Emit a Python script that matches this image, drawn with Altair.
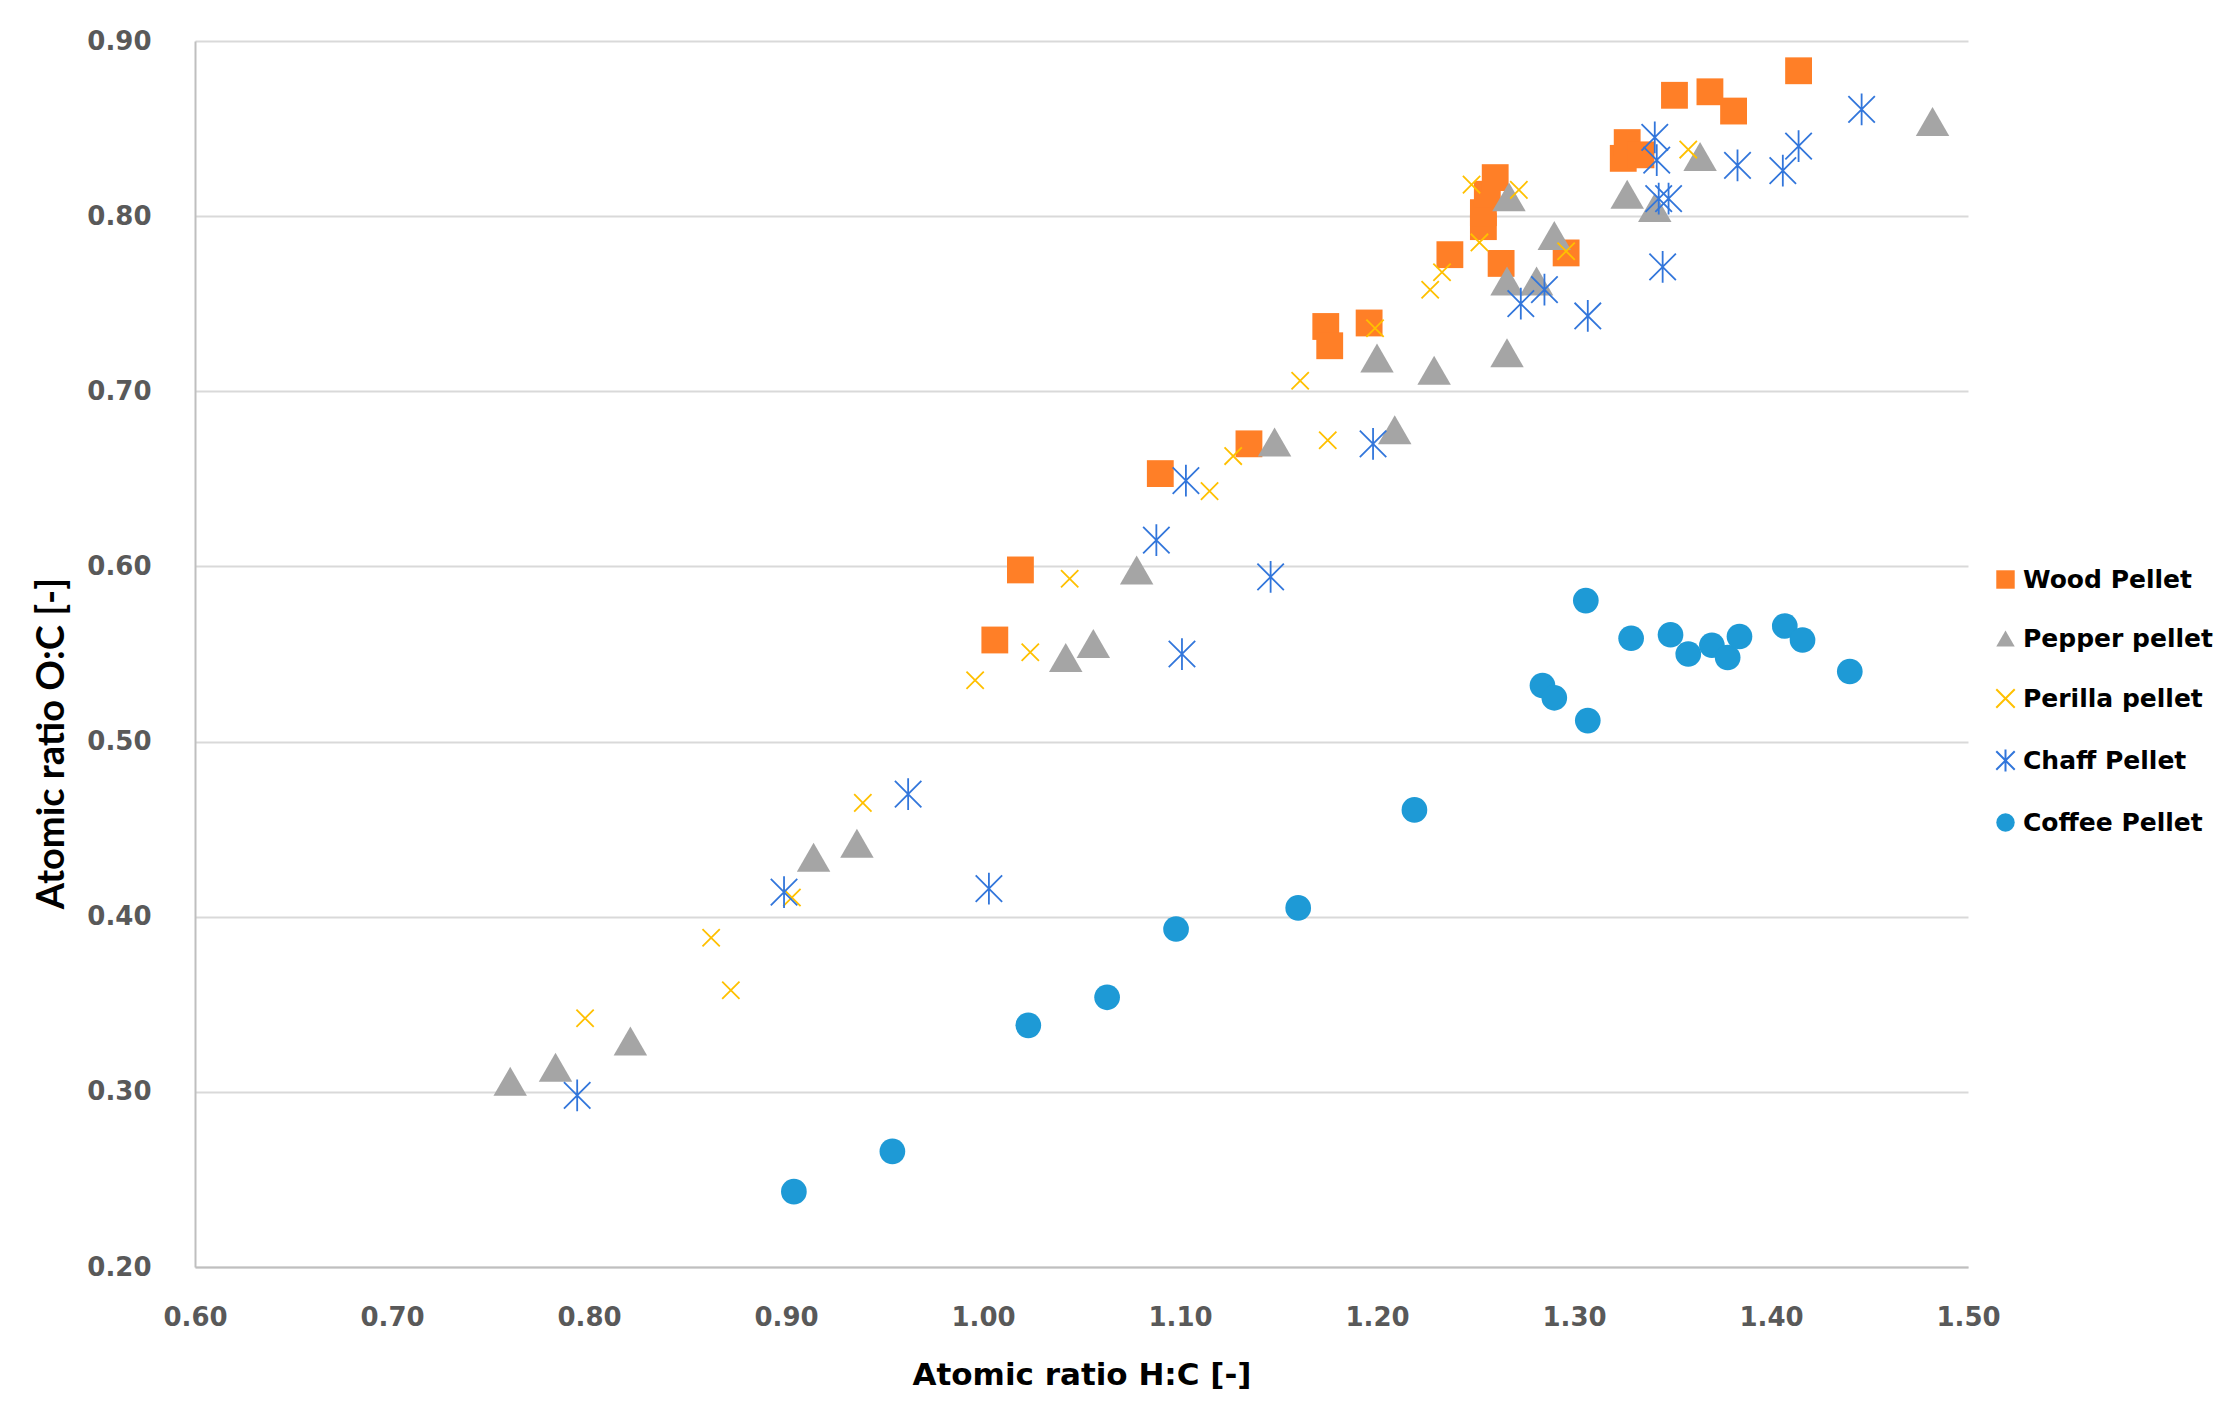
import altair as alt
import pandas as pd

series_names = ["Wood Pellet", "Pepper pellet", "Perilla pellet", "Chaff Pellet", "Coffee Pellet"]

wood_hc = [1.006, 1.019, 1.090, 1.135, 1.174, 1.176, 1.196, 1.237, 1.254, 1.254, 1.256,
           1.260, 1.263, 1.296, 1.325, 1.327, 1.334, 1.351, 1.369, 1.381, 1.414]
wood_oc = [0.558, 0.598, 0.653, 0.670, 0.737, 0.726, 0.739, 0.778, 0.794, 0.802, 0.8125,
           0.822, 0.773, 0.779, 0.833, 0.842, 0.835, 0.869, 0.871, 0.860, 0.883]

pepper_hc = [0.760, 0.783, 0.821, 0.914, 0.936, 1.042, 1.056, 1.078, 1.148, 1.200, 1.209,
             1.229, 1.266, 1.266, 1.281, 1.267, 1.290, 1.327, 1.341, 1.364, 1.482]
pepper_oc = [0.306, 0.314, 0.329, 0.434, 0.442, 0.548, 0.556, 0.598, 0.671, 0.719, 0.678,
             0.712, 0.722, 0.763, 0.763, 0.811, 0.789, 0.8125, 0.805, 0.834, 0.854]

perilla_hc = [0.798, 0.862, 0.872, 0.903, 0.939, 0.996, 1.024, 1.044, 1.115, 1.127, 1.161,
              1.175, 1.199, 1.227, 1.233, 1.252, 1.248, 1.272, 1.296, 1.358]
perilla_oc = [0.342, 0.388, 0.358, 0.411, 0.465, 0.535, 0.551, 0.593, 0.643, 0.663, 0.706,
              0.672, 0.736, 0.758, 0.768, 0.785, 0.818, 0.815, 0.780, 0.838]

chaff_hc = [0.794, 0.899, 0.962, 1.003, 1.088, 1.101, 1.103, 1.146, 1.198, 1.273, 1.285,
            1.307, 1.341, 1.342, 1.343, 1.348, 1.345, 1.383, 1.406, 1.414, 1.446]
chaff_oc = [0.298, 0.414, 0.470, 0.416, 0.615, 0.550, 0.649, 0.594, 0.670, 0.750, 0.758,
            0.743, 0.845, 0.832, 0.810, 0.810, 0.771, 0.829, 0.826, 0.840, 0.861]

coffee_hc = [0.904, 0.954, 1.023, 1.063, 1.098, 1.160, 1.219, 1.284, 1.290, 1.307, 1.306,
             1.329, 1.349, 1.358, 1.370, 1.378, 1.384, 1.407, 1.416, 1.440]
coffee_oc = [0.243, 0.266, 0.338, 0.354, 0.393, 0.405, 0.461, 0.532, 0.525, 0.512, 0.5805,
             0.559, 0.561, 0.550, 0.555, 0.548, 0.560, 0.566, 0.558, 0.540]

x_ticks = [0.6, 0.7, 0.8, 0.9, 1.0, 1.1, 1.2, 1.3, 1.4, 1.5]
y_ticks = [0.2, 0.3, 0.4, 0.5, 0.6, 0.7, 0.8, 0.9]

rows = []
for name, xs, ys in zip(series_names,
                        [wood_hc, pepper_hc, perilla_hc, chaff_hc, coffee_hc],
                        [wood_oc, pepper_oc, perilla_oc, chaff_oc, coffee_oc]):
    for a, b in zip(xs, ys):
        rows.append({"series": name, "hc": a, "oc": b})
df = pd.DataFrame(rows)

shape_range = ["square", "triangle-up", "M-1,-1L1,1M1,-1L-1,1",
               "M-1,-1L1,1M1,-1L-1,1M0,-1.2L0,1.2", "circle"]
fill_range = ["#FF7F27", "#A5A5A5", "transparent", "transparent", "#1E9AD6"]
stroke_range = ["transparent", "transparent", "#FFC000", "#3276DB", "transparent"]
# marker sizes, keyed by series (sorted alphabetically for the size scale)
marker_size = {"Wood Pellet": 720, "Pepper pellet": 1120, "Perilla pellet": 300,
               "Chaff Pellet": 700, "Coffee Pellet": 660}
size_domain = sorted(series_names)
size_range = [marker_size[s] for s in size_domain]

FONT = "DejaVu Sans"
YT_FONT = "Lato"

legend = alt.Legend(
    title=None, orient="none", legendX=1798, legendY=526,
    labelFont=FONT, labelFontSize=25, labelFontWeight="bold", labelColor="#000000",
    symbolSize=340, symbolStrokeWidth=2, rowPadding=33, labelOffset=5, padding=0,
    labelLimit=400,
)

chart = alt.Chart(df).transform_calculate(
    marker="datum.series"
).mark_point(opacity=1, strokeWidth=1.8).encode(
    x=alt.X("hc:Q", scale=alt.Scale(domain=[0.6, 1.5], nice=False, zero=False),
            axis=alt.Axis(title="Atomic ratio H:C [-]", values=x_ticks, format=".2f",
                          grid=False, ticks=False, domainColor="#BFBFBF", domainWidth=2,
                          labelFlush=False,
                          labelFont=FONT, labelFontSize=26, labelFontWeight="bold",
                          labelColor="#595959", labelPadding=37,
                          titleFont=FONT, titleFontSize=31, titleFontWeight="bold",
                          titleColor="#000000", titleY=108, titleBaseline="middle")),
    y=alt.Y("oc:Q", scale=alt.Scale(domain=[0.2, 0.9], nice=False, zero=False),
            axis=alt.Axis(title="Atomic ratio O:C [-]", values=y_ticks, format=".2f",
                          grid=True, gridColor="#D9D9D9", gridWidth=2, ticks=False,
                          domainColor="#BFBFBF", domainWidth=2,
                          labelFont=FONT, labelFontSize=26, labelFontWeight="bold",
                          labelColor="#595959", labelPadding=44,
                          titleFont=YT_FONT, titleFontSize=38, titleFontWeight="bold",
                          titleColor="#000000", titleX=-143, titleY=702,
                          titleAlign="center", titleBaseline="middle")),
    shape=alt.Shape("series:N", scale=alt.Scale(domain=series_names, range=shape_range), legend=legend),
    fill=alt.Fill("series:N", scale=alt.Scale(domain=series_names, range=fill_range), legend=legend),
    stroke=alt.Stroke("series:N", scale=alt.Scale(domain=series_names, range=stroke_range), legend=legend),
    size=alt.Size("marker:N", sort="ascending",
                  scale=alt.Scale(type="ordinal", range=size_range), legend=None),
).properties(
    width=1773, height=1226,
    autosize=alt.AutoSizeParams(type="none"),
    padding={"left": 187, "top": 33, "right": 258, "bottom": 140},
).configure_view(stroke=None)

chart.save("out.html", embed_options={"renderer": "svg", "actions": False})
